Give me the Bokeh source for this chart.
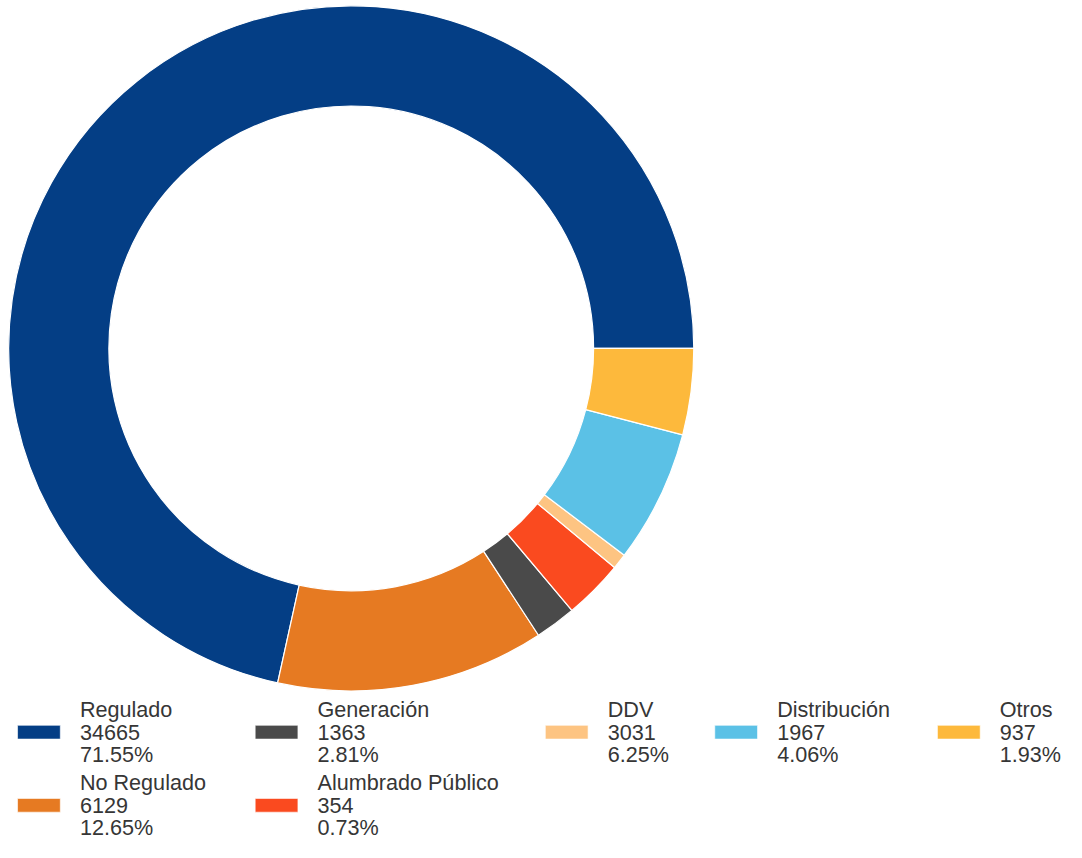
import numpy as np
from bokeh.plotting import figure
from bokeh.models import Range1d, ColumnDataSource
from bokeh.core.properties import value
from bokeh.embed import file_html
from bokeh.resources import INLINE

# ---- data (legend order) ----
categories = ["Regulado", "No Regulado", "Generación", "Alumbrado Público",
              "DDV", "Distribución", "Otros"]
values = [34665, 6129, 1363, 354, 3031, 1967, 937]
percents = ["71.55%", "12.65%", "2.81%", "0.73%", "6.25%", "4.06%", "1.93%"]
colors = ["#043e85", "#e67a22", "#4a4a4a", "#fa4a1f", "#fdc482", "#5bc1e6", "#fdb93c"]

# Slice sizes as drawn in the picture (the ring takes the colours in legend order,
# but the sizes appear in this order)
slice_values = [34665, 6129, 937, 1363, 354, 3031, 1967]

# ---- layout: reference coordinate space (1082 x 858) mapped onto the figure ----
REF_W, REF_H = 1082, 858
W, H = 1066, 842


def ry(y):
    return REF_H - y


p = figure(width=W, height=H, output_backend="svg", toolbar_location=None,
           x_range=Range1d(0, REF_W), y_range=Range1d(0, REF_H),
           x_axis_location=None, y_axis_location=None, min_border=0,
           outline_line_color=None, background_fill_color="white",
           border_fill_color="white")
p.grid.visible = False

# ---- donut ----
vals = np.array(slice_values, dtype=float)
frac = vals / vals.sum()
ends = np.cumsum(frac) * 2 * np.pi
starts = np.concatenate([[0.0], ends[:-1]])
src = ColumnDataSource(dict(start=starts, end=ends, color=colors))
p.annular_wedge(x=356, y=ry(354.5), inner_radius=246, outer_radius=347.7,
                start_angle="start", end_angle="end", direction="anticlock",
                fill_color="color", line_color="white", line_width=1.2, source=src)

# ---- legend ----
row_items = [[0, 2, 4, 5, 6], [1, 3]]
col_x = [[17.3, 258.5, 553, 725, 951], [17.3, 258.5]]
row_mid = [722.5, 797.0]   # vertical middle of the first text line (reference px)
line_gap = 23.1
font = value("Liberation Sans")
fs = "21.6px"
tcolor = "#363636"

lx, ly1, ly2, ly3, l1, l2, l3 = [], [], [], [], [], [], []
sx, sy_, scol = [], [], []
for r, items in enumerate(row_items):
    for c, idx in enumerate(items):
        x0 = col_x[r][c]
        m = row_mid[r]
        lx.append(x0 + 63.3)
        ly1.append(ry(m))
        ly2.append(ry(m + line_gap))
        ly3.append(ry(m + 2 * line_gap))
        l1.append(categories[idx])
        l2.append(str(values[idx]))
        l3.append(percents[idx])
        sx.append(x0 + 21.7)
        sy_.append(ry(m + line_gap))
        scol.append(colors[idx])

p.rect(x=sx, y=sy_, width=43.4, height=14, fill_color=scol, line_color="white",
       line_alpha=0.6, line_width=1)
for ys, txt in ((ly1, l1), (ly2, l2), (ly3, l3)):
    p.text(x=lx, y=ys, text=txt, text_font=font, text_font_size=fs,
           text_color=tcolor, text_align="left", text_baseline="middle")

open("out.html", "w").write(file_html(p, INLINE))
